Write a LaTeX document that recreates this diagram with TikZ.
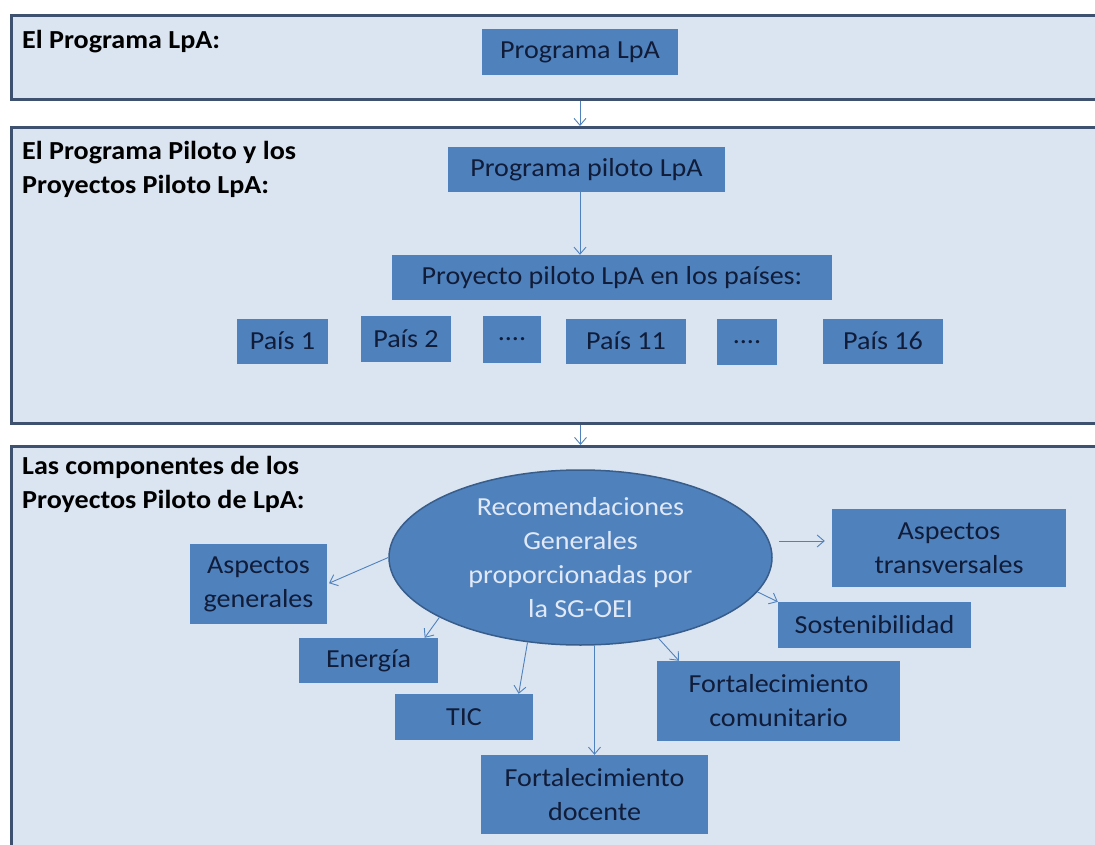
\documentclass[tikz,border=0pt]{standalone}
\usepackage{fontspec}
\setmainfont{Carlito}[FakeStretch=1.08]
\usepackage{tikz}
\usetikzlibrary{shapes.geometric, arrows.meta}
\definecolor{lpablue}{RGB}{79,129,189}
\definecolor{lpadark}{RGB}{56,93,138}
\definecolor{lpapanel}{RGB}{219,229,241}
\definecolor{lpaframe}{RGB}{62,82,112}
\definecolor{lpatext}{RGB}{16,28,56}
\definecolor{lpalight}{RGB}{225,233,246}

\begin{document}
\begin{tikzpicture}[x=1pt, y=-1pt, >={Straight Barb[length=7pt,width=12pt]}, font=\fontsize{26}{34}\selectfont,
	panel/.style={rectangle, draw=lpaframe, line width=3pt, fill=lpapanel, anchor=north west, inner sep=0pt, minimum width=1100pt},
	titel/.style={anchor=north west, align=left, inner sep=0pt, font=\fontsize{26}{34}\selectfont\bfseries},
	box/.style={rectangle, fill=lpablue, text=lpatext, align=center, inner sep=0pt},
	pfeil/.style={->, draw=lpablue, line width=0.9pt}]
			% Bildbereich
			\useasboundingbox (0,0) rectangle (1095,845);
			\clip (0,0) rectangle (1095,845);
			% Rahmen
			\node[panel, minimum height=84pt] (p1) at (10,14) {};
			\node[panel, minimum height=296pt] (p2) at (10,126) {};
			\node[panel, minimum height=420pt] (p3) at (10,445) {};
			% Ueberschriften
			\node[titel] (t1) at (22,30) {El Programa LpA:};
			\node[titel] (t2) at (22,141) {El Programa Piloto y los\\Proyectos Piloto LpA:};
			\node[titel] (t3) at (22,456) {Las componentes de los\\Proyectos Piloto de LpA:};
			% Programa
			\node[box, minimum width=196pt, minimum height=46pt] (lpa) at (580,52) {Programa LpA};
			% Programa piloto und Laender
			\node[box, minimum width=277pt, minimum height=45pt] (ppl) at (586.5,169.5) {Programa piloto LpA};
			\node[box, minimum width=440pt, minimum height=45pt] (pp) at (612,277.5) {Proyecto piloto LpA en los países:};
			\node[box, minimum width=91pt, minimum height=45pt] (pais1) at (282.5,341) {País 1};
			\node[box, minimum width=90pt, minimum height=46pt] (pais2) at (406,339) {País 2};
			\node[box, minimum width=58pt, minimum height=47pt] (dots1) at (512,339.5) {....};
			\node[box, minimum width=120pt, minimum height=45pt] (pais11) at (626,341) {País 11};
			\node[box, minimum width=60pt, minimum height=46pt] (dots2) at (747,342) {....};
			\node[box, minimum width=120pt, minimum height=45pt] (pais16) at (883,341) {País 16};
			% Komponenten
			\node[ellipse, fill=lpablue, draw=lpadark, line width=1.5pt, text=lpalight, align=center, inner sep=0pt,
				minimum width=383pt, minimum height=175pt] (rec) at (580.5,557.5)
				{Recomendaciones\\Generales\\proporcionadas por\\la SG-OEI};
			\node[box, minimum width=137pt, minimum height=80pt] (asg) at (258.5,584) {Aspectos\\generales};
			\node[box, minimum width=139pt, minimum height=45pt] (ene) at (368.5,660.5) {Energía};
			\node[box, minimum width=138pt, minimum height=46pt] (tic) at (464,717) {TIC};
			\node[box, minimum width=227pt, minimum height=79pt] (doc) at (594.5,794.5) {Fortalecimiento\\docente};
			\node[box, minimum width=243pt, minimum height=80pt] (com) at (778.5,701) {Fortalecimiento\\comunitario};
			\node[box, minimum width=193pt, minimum height=46pt] (sos) at (874.5,625) {Sostenibilidad};
			\node[box, minimum width=234pt, minimum height=78pt] (tra) at (949,548) {Aspectos\\transversales};
			% Pfeile
			\draw[pfeil] (p1.south -| lpa.south) -- (p2.north -| lpa.south);
			\draw[pfeil] (ppl.south -| lpa.south) -- (pp.north -| lpa.south);
			\draw[pfeil] (p2.south -| rec.north) -- (p3.north -| rec.north);
			\draw[pfeil, shorten >=2pt] (rec.west) -- (asg.east);
			\draw[pfeil] (rec.-157) -- (ene.22);
			\draw[pfeil] (rec.-122) -- (tic.23);
			\draw[pfeil] (rec.south -| doc.north) -- (doc.north);
			\draw[pfeil] (rec.-46) -- (com.158);
			\draw[pfeil] (rec.-11) -- (sos.north west);
			\draw[pfeil, shorten <=10pt, shorten >=7pt] (rec.5) -- (rec.5 -| tra.west);
		\end{tikzpicture}
\end{document}
